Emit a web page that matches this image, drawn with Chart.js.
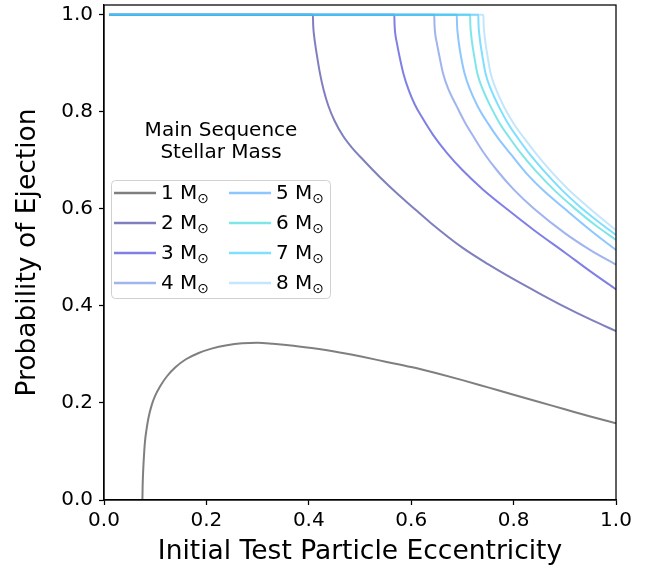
<!DOCTYPE html>
<html>
<head>
<meta charset="utf-8">
<script src="https://cdn.jsdelivr.net/npm/chart.js@4.4.0/dist/chart.umd.min.js"></script>
<style>
  html, body { margin: 0; padding: 0; background: #fff; }
</style>
</head>
<body>
<canvas id="chart" width="657" height="569"></canvas>
<script>
var massLabels = ['1', '2', '3', '4', '5', '6', '7', '8'];
// black, navy, mediumblue, royalblue, dodgerblue, darkturquoise, deepskyblue, lightskyblue at half alpha
var lineColors = [
  'rgba(0,0,0,0.5)',
  'rgba(0,0,128,0.5)',
  'rgba(0,0,205,0.5)',
  'rgba(65,105,225,0.5)',
  'rgba(30,144,255,0.5)',
  'rgba(0,206,209,0.5)',
  'rgba(0,191,255,0.5)',
  'rgba(135,206,250,0.5)'
];

// eccentricity / ejection probability
var eccM1 = [0.075, 0.0755, 0.0765, 0.078, 0.080, 0.083, 0.087, 0.093, 0.10, 0.11, 0.123, 0.14, 0.16, 0.185, 0.21, 0.24, 0.27, 0.30, 0.33, 0.37, 0.42, 0.45, 0.5, 0.55, 0.6, 0.65, 0.7, 0.75, 0.8, 0.85, 0.9, 0.95, 1.0];
var probM1 = [0.0, 0.03, 0.06, 0.09, 0.12, 0.145, 0.17, 0.195, 0.215, 0.235, 0.255, 0.274, 0.29, 0.303, 0.312, 0.319, 0.323, 0.324, 0.322, 0.318, 0.311, 0.306, 0.296, 0.285, 0.274, 0.261, 0.247, 0.232, 0.217, 0.202, 0.187, 0.172, 0.158];

var eccM2 = [0.01, 0.408, 0.4085, 0.41, 0.412, 0.416, 0.422, 0.429, 0.438, 0.45, 0.467, 0.485, 0.506, 0.539, 0.572, 0.6, 0.637, 0.7, 0.75, 0.8, 0.85, 0.9, 0.95, 1.0];
var probM2 = [1.0, 1.0, 0.98, 0.96, 0.943, 0.915, 0.878, 0.845, 0.813, 0.782, 0.75, 0.725, 0.701, 0.665, 0.632, 0.606, 0.572, 0.52, 0.486, 0.455, 0.426, 0.398, 0.372, 0.348];

var eccM3 = [0.01, 0.567, 0.5675, 0.569, 0.572, 0.577, 0.585, 0.595, 0.607, 0.622, 0.643, 0.67, 0.7, 0.74, 0.79, 0.84, 0.9, 0.95, 1.0];
var probM3 = [1.0, 1.0, 0.98, 0.96, 0.942, 0.915, 0.878, 0.845, 0.815, 0.787, 0.752, 0.715, 0.68, 0.64, 0.597, 0.556, 0.51, 0.471, 0.434];

var eccM4 = [0.01, 0.645, 0.6455, 0.647, 0.650, 0.655, 0.662, 0.672, 0.689, 0.705, 0.721, 0.742, 0.767, 0.8, 0.84, 0.9, 0.95, 1.0];
var probM4 = [1.0, 1.0, 0.98, 0.96, 0.942, 0.915, 0.88, 0.848, 0.811, 0.778, 0.75, 0.715, 0.68, 0.64, 0.6, 0.55, 0.515, 0.485];

var eccM5 = [0.01, 0.689, 0.6895, 0.691, 0.693, 0.697, 0.704, 0.714, 0.73, 0.75, 0.77, 0.795, 0.826, 0.86, 0.9, 0.95, 1.0];
var probM5 = [1.0, 1.0, 0.98, 0.96, 0.942, 0.915, 0.88, 0.848, 0.811, 0.776, 0.745, 0.712, 0.672, 0.636, 0.6, 0.556, 0.515];

var eccM6 = [0.01, 0.715, 0.7155, 0.717, 0.719, 0.723, 0.729, 0.739, 0.755, 0.773, 0.793, 0.816, 0.845, 0.88, 0.917, 0.96, 1.0];
var probM6 = [1.0, 1.0, 0.98, 0.96, 0.942, 0.915, 0.88, 0.848, 0.811, 0.776, 0.745, 0.712, 0.676, 0.638, 0.603, 0.566, 0.536];

var eccM7 = [0.01, 0.731, 0.7315, 0.733, 0.735, 0.739, 0.745, 0.755, 0.771, 0.789, 0.809, 0.832, 0.861, 0.895, 0.93, 0.965, 1.0];
var probM7 = [1.0, 1.0, 0.98, 0.96, 0.942, 0.915, 0.88, 0.848, 0.811, 0.776, 0.745, 0.712, 0.676, 0.638, 0.604, 0.574, 0.546];

var eccM8 = [0.01, 0.741, 0.7415, 0.743, 0.745, 0.749, 0.755, 0.765, 0.781, 0.8, 0.821, 0.845, 0.874, 0.907, 0.943, 0.972, 1.0];
var probM8 = [1.0, 1.0, 0.98, 0.96, 0.942, 0.915, 0.88, 0.848, 0.811, 0.776, 0.745, 0.712, 0.676, 0.64, 0.606, 0.58, 0.556];

var xTicks = [0.0, 0.2, 0.4, 0.6, 0.8, 1.0];
var yTicks = [0.0, 0.2, 0.4, 0.6, 0.8, 1.0];
var legendTitle = ['Main Sequence', 'Stellar Mass'];

var eccAll = [eccM1, eccM2, eccM3, eccM4, eccM5, eccM6, eccM7, eccM8];
var probAll = [probM1, probM2, probM3, probM4, probM5, probM6, probM7, probM8];

var FONT = '"DejaVu Sans", sans-serif';

function toPoints(xs, ys) {
  var pts = [];
  for (var i = 0; i < xs.length; i++) pts.push({ x: xs[i], y: ys[i] });
  return pts;
}

var datasets = massLabels.map(function (m, i) {
  return {
    label: m + ' M\u2299',
    data: toPoints(eccAll[i], probAll[i]),
    borderColor: lineColors[i],
    borderWidth: 2,
    pointRadius: 0,
    cubicInterpolationMode: 'monotone',
    fill: false,
    order: massLabels.length - i   // later masses on top
  };
});

// box round the plot + the legend with its title
var framePlugin = {
  id: 'frame',
  afterDatasetsDraw(chart) {
    var a = chart.chartArea;
    var ctx = chart.ctx;
    ctx.save();
    ctx.strokeStyle = '#000';
    ctx.lineWidth = 1.25;
    ctx.strokeRect(a.left, a.top, a.right - a.left, a.bottom - a.top);

    ctx.fillStyle = '#000';
    ctx.font = '20px ' + FONT;
    ctx.textAlign = 'center';
    ctx.textBaseline = 'middle';
    ctx.fillText(legendTitle[0], 221, 131);
    ctx.fillText(legendTitle[1], 221, 153);

    ctx.beginPath();
    ctx.roundRect(111.5, 180.5, 219, 118, 4);
    ctx.fillStyle = 'rgba(255,255,255,0.8)';
    ctx.fill();
    ctx.strokeStyle = '#d0d0d0';
    ctx.lineWidth = 1;
    ctx.stroke();

    for (var i = 0; i < massLabels.length; i++) {
      var col = i < 4 ? 0 : 1;
      var row = i % 4;
      var y = 193 + row * 30;
      var lx = col ? 229 : 114;
      var tx = col ? 276 : 161;
      ctx.beginPath();
      ctx.moveTo(lx, y);
      ctx.lineTo(lx + 42, y);
      ctx.strokeStyle = lineColors[i];
      ctx.lineWidth = 2.5;
      ctx.stroke();
      ctx.fillStyle = '#000';
      ctx.textAlign = 'left';
      ctx.font = '20px ' + FONT;
      var txt = massLabels[i] + ' M';
      ctx.fillText(txt, tx, y + 1);
      var w = ctx.measureText(txt).width;
      ctx.font = '14px ' + FONT;
      ctx.fillText('\u2299', tx + w, y + 6);
    }
    ctx.restore();
  }
};

new Chart(document.getElementById('chart'), {
  type: 'line',
  data: { datasets: datasets },
  plugins: [framePlugin],
  options: {
    responsive: false,
    animation: false,
    layout: { padding: { left: 0, top: 5, right: 41, bottom: 0 } },
    plugins: {
      legend: { display: false },
      tooltip: { enabled: false }
    },
    scales: {
      x: {
        type: 'linear',
        min: 0,
        max: 1,
        afterFit: function (s) { s.height = 69; s.paddingLeft = 0; s.paddingRight = 0; },
        afterBuildTicks: function (s) { s.ticks = xTicks.map(function (v) { return { value: v }; }); },
        grid: { drawOnChartArea: false, drawTicks: true, tickLength: 5, tickColor: '#000', tickWidth: 1.25 },
        border: { display: true, color: '#000', width: 1.25 },
        ticks: {
          color: '#000',
          padding: 4,
          maxRotation: 0,
          font: { family: FONT, size: 20 },
          callback: function (v) { return v.toFixed(1); }
        },
        title: {
          display: true,
          text: 'Initial Test Particle Eccentricity',
          color: '#000',
          font: { family: FONT, size: 26.5 },
          padding: { top: 0, bottom: 1 }
        }
      },
      y: {
        type: 'linear',
        min: 0,
        max: 1.02,
        afterFit: function (s) { s.width = 104; s.paddingTop = 0; s.paddingBottom = 0; },
        afterBuildTicks: function (s) { s.ticks = yTicks.map(function (v) { return { value: v }; }); },
        grid: { drawOnChartArea: false, drawTicks: true, tickLength: 5, tickColor: '#000', tickWidth: 1.25 },
        border: { display: true, color: '#000', width: 1.25 },
        ticks: {
          color: '#000',
          padding: 6,
          font: { family: FONT, size: 20 },
          callback: function (v) { return v.toFixed(1); }
        },
        title: {
          display: true,
          text: 'Probability of Ejection',
          color: '#000',
          font: { family: FONT, size: 26.5 },
          padding: { top: 12, bottom: 0 }
        }
      }
    }
  }
});
</script>
</body>
</html>
